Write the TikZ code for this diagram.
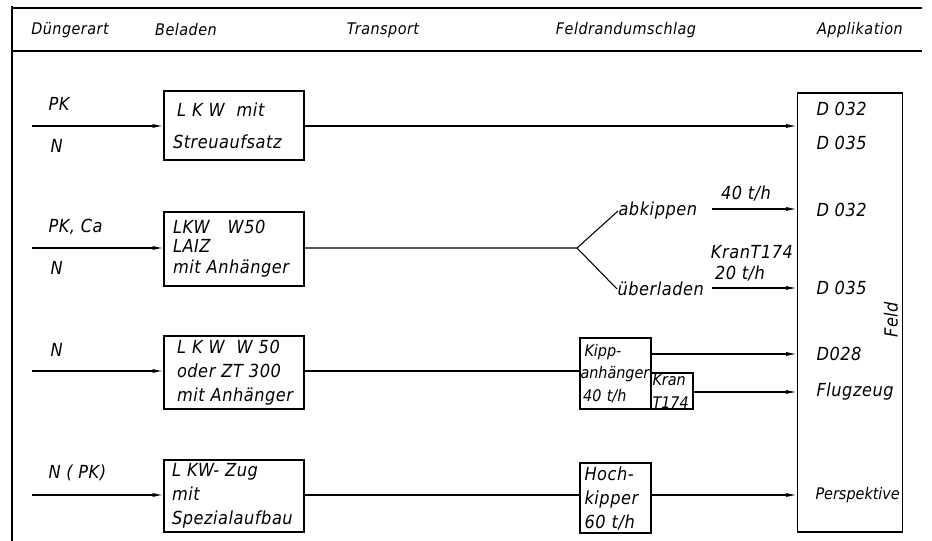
\documentclass[tikz,border=0pt]{standalone}
\usepackage{fontspec}
\setmainfont{DejaVu Sans Condensed}[LetterSpace=3]
\usetikzlibrary{arrows.meta}

\begin{document}
\begin{tikzpicture}[x=0.75pt,y=-0.75pt,
  every node/.style={font=\fontsize{13.5}{18}\selectfont\itshape, inner sep=0pt},
  hdr/.style={font=\fontsize{12}{14}\selectfont\itshape},
  small/.style={font=\fontsize{12}{17}\selectfont\itshape\addfontfeatures{LetterSpace=0}},
  box/.style={draw, line width=1.1pt, inner sep=0pt, align=left, anchor=center},
  txt/.style={anchor=west},
  arr/.style={-{Latex[length=8pt,width=3pt]}},
  line width=0.8pt]
\useasboundingbox (0,0) rectangle (932,541);

% frame and header
\draw[line width=1pt] (12,541) -- (12,6);
\draw[line width=1pt] (12,8) -- (922,8);
\draw[line width=1pt] (12,51) -- (922,51);
\node[hdr] (hdung) at (70,30) {Düngerart};
\node[hdr] (hbel) at (186,30) {Beladen};
\node[hdr] (htra) at (383,30) {Transport};
\node[hdr] (hfeld) at (626,30) {Feldrandumschlag};
\node[hdr] (happ) at (860,30) {Applikation};

% field
\node[draw, line width=1.1pt, minimum width=105*0.75pt, minimum height=439*0.75pt] (feld) at (850,312.5) {};
\node[rotate=90] (feldtxt) at (891,320) {Feld};
\node[txt] (d32a) at (816,109) {D 032};
\node[txt] (d35a) at (816,143) {D 035};
\node[txt] (d32b) at (816,210) {D 032};
\node[txt] (d35b) at (816,288) {D 035};
\node[txt] (d28) at (816,354) {D028};
\node[txt] (flug) at (816,392) {Flugzeug};
\node[txt, small] (persp) at (815,495) {Perspektive};

% row 1
\node[txt] (pk1) at (48,104) {PK};
\node[txt] (n1) at (50,146) {N};
\coordinate (s1) at (32,126);
\node[box, minimum width=140*0.75pt, minimum height=69*0.75pt, text width=122*0.75pt] (lkw1) at (234,125.5)
  {\hspace*{3pt}L K W\ \ mit\\[6pt]Streuaufsatz};
\draw[arr] (s1) -- (s1 -| lkw1.west);
\draw[arr] (lkw1.east |- s1) -- (feld.west |- s1);

% row 2
\node[txt] (pk2) at (48,227) {PK, Ca};
\node[txt] (n2) at (50,268) {N};
\coordinate (s2) at (32,248);
\node[box, minimum width=140*0.75pt, minimum height=74*0.75pt, text width=122*0.75pt] (lkw2) at (234,249)
  {LKW\ \ \ W50\\[-4pt]LAIZ\\[-2pt]mit Anhänger};
\draw[arr] (s2) -- (s2 -| lkw2.west);
\coordinate (fork) at (577,248);
\node[txt] (abk) at (618,211) {abkippen};
\node[txt] (ueb) at (617,289) {überladen};
\draw (lkw2.east |- fork) -- (fork) -- (abk.west);
\draw (fork) -- (ueb.west);
\coordinate (a1) at (712,209);
\coordinate (a2) at (712,288);
\draw[arr] (a1) -- (feld.west |- a1);
\draw[arr] (a2) -- (feld.west |- a2);
\node (r40) at (746,193) {40 t/h};
\node (kran1) at (752,252) {KranT174};
\node (r20) at (740,273) {20 t/h};

% row 3
\node[txt] (n3) at (50,350) {N};
\coordinate (s3) at (32,371);
\node[box, minimum width=140*0.75pt, minimum height=73*0.75pt, text width=122*0.75pt] (lkw3) at (234,372.5)
  {\hspace*{3pt}L K W\ \ W 50\\\hspace*{3pt}oder ZT 300\\\hspace*{3pt}mit Anhänger};
\node[box, small, minimum width=71*0.75pt, minimum height=71*0.75pt, text width=70*0.75pt] (kipp) at (615.5,373.5)
  {\hspace*{3pt}Kipp-\\anhänger\\\hspace*{2pt}40 t/h};
\node[box, small, minimum width=42*0.75pt, minimum height=36*0.75pt, text width=39*0.75pt] (kran2) at (672,391)
  {\baselineskip=13pt Kran\\T174};
\draw[arr] (s3) -- (s3 -| lkw3.west);
\draw (lkw3.east |- s3) -- (kipp.west |- s3);
\draw[arr] (kipp.east |- d28) -- (feld.west |- d28);
\draw[arr] (kran2.east |- flug) -- (feld.west |- flug);

% row 4
\node[txt] (n4) at (48,473) {N ( PK)};
\coordinate (s4) at (32,495);
\node[box, minimum width=140*0.75pt, minimum height=72*0.75pt, text width=124*0.75pt] (lkw4) at (234,496)
  {L KW- Zug\\mit\\Spezialaufbau};
\node[box, minimum width=71*0.75pt, minimum height=70*0.75pt, text width=62*0.75pt] (hoch) at (615.5,498)
  {Hoch-\\kipper\\60 t/h};
\draw[arr] (s4) -- (s4 -| lkw4.west);
\draw (lkw4.east |- s4) -- (hoch.west |- s4);
\draw[arr] (hoch.east |- s4) -- (feld.west |- s4);
\end{tikzpicture}
\end{document}
